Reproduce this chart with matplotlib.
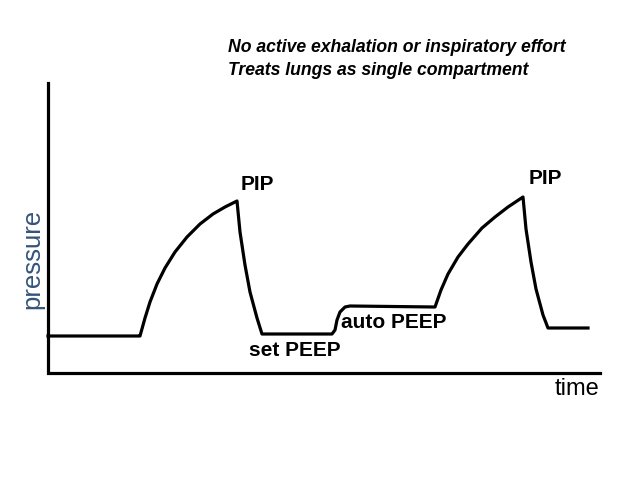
import matplotlib.pyplot as plt

plt.rcParams['font.family'] = ['Liberation Sans', 'DejaVu Sans']

# waveform (x = time, y = pressure, pixel units, y down)
time_pts = [48, 139,
            140, 145, 150, 157, 165, 175, 187, 200, 213, 225, 237,
            240, 245, 250, 257, 262,
            332, 335, 337, 340, 345, 350,
            435, 441, 448, 458, 468, 482, 495, 508, 523,
            526, 531, 536, 543, 548,
            588]
press_pts = [336, 336,
             336, 318, 302, 284, 268, 252, 237, 224, 214, 207, 201,
             232, 265, 292, 318, 334,
             334, 330, 320, 312, 307, 306,
             307, 290, 274, 257, 244, 228, 217, 207, 197,
             229, 262, 289, 315, 328,
             328]

notes = ['No active exhalation or inspiratory effort', 'Treats lungs as single compartment']
labels = ['PIP', 'PIP', 'set PEEP', 'auto PEEP']
label_pos = [(257, 184), (545, 179), (295, 351), (394, 323)]

fig = plt.figure(figsize=(6.38, 4.79), dpi=100)
ax = fig.add_axes([0, 0, 1, 1])
ax.set_xlim(0, 638)
ax.set_ylim(479, 0)
ax.axis('off')

# axes drawn by hand like the slide
ax.plot([48, 48, 600], [83, 373, 373], color='black', lw=2.3, solid_joinstyle='miter')

ax.plot(time_pts, press_pts, color='black', lw=2.3, solid_joinstyle='round')

for txt, (x, y) in zip(labels, label_pos):
    ax.text(x, y, txt, fontsize=15, fontweight='bold', ha='center', va='center')

ax.text(228, 47, notes[0], fontsize=12.7, fontweight='bold', style='italic', va='center')
ax.text(228, 70, notes[1], fontsize=12.7, fontweight='bold', style='italic', va='center')

ax.text(32, 259, 'pressure', fontsize=18.5, rotation=90, color='#34547a', ha='center', va='center')
ax.text(577, 389, 'time', fontsize=17, ha='center', va='center')

fig.savefig('out.png', dpi=100)
